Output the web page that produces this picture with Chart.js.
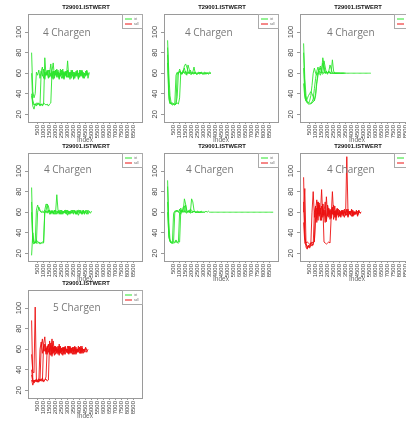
<!DOCTYPE html>
<html>
<head>
<meta charset="utf-8">
<script src="https://cdn.jsdelivr.net/npm/chart.js@4"></script>
<style>
  body { margin: 0; width: 406px; height: 423px; overflow: hidden; background: #fff; position: relative; }
  canvas { position: absolute; }
</style>
</head>
<body>
<script>
// index step between two values of a series
const STEP = 100;
const xTicks = [500, 1000, 1500, 2000, 2500, 3000, 3500, 4000, 4500, 5000, 5500, 6000, 6500, 7000, 7500, 8000, 8500];
const yTicks = [20, 40, 60, 80, 100];
const title = "T29001.ISTWERT";
const chargen = ["4 Chargen", "4 Chargen", "4 Chargen", "4 Chargen", "4 Chargen", "4 Chargen", "5 Chargen"];
const legendLabels = ["ist", "soll"];

// panel 1
const s1a = [80,42,36,40,61,58,63,55,62,57,64,54,61,58,63,56,60,55,62,57,63,58,61,54,62,59,64,55,60,57,63,56,61,58,62,54,60,57,63,55,61,59,62,56,60,58,63,55,60];
const s1b = [60,31,29,30,28,30,31,29,30,28,30,75,58,62,55,63,57,61,54,62,58,64,56,60,57,63,55,61,58,62,56,60,54,63,57,61,55,62,58,60,56,63,57,61,55,62,58,60];
const s1c = [40,28,25,30,29,31,30,28,30,29,31,30,29,30,28,30,31,62,70,57,63,56,61,55,64,58,60,54,62,57,72,56,61,58,63,55,60,57,62,54,61,58,63,56,60,57,62,58,61];
const s1d = [38,33,30,29,31,30,30,29,62,66,55,61,58,63,56,60,69,57,62,55,61,58,63,57,60,55,62,58,61,56,63,59,60,55,62,57,61,58,60,56,63,57,61,55,60,58,62];
// panel 2
const s2a = [92,60,38,31,30,30,31,58,61,60,62,59,60,61,60,59,61,60,60,59,60,61,60,60,59,60,60,61,60,60,59,60,60,60,59,60,60];
const s2b = [85,45,32,30,29,30,30,30,37,60,62,60,59,61,67,69,66,62,60,61,59,60,60,61,60,59,60,60,61,60,60,59,60,60,60,61,60];
const s2c = [78,40,31,30,31,30,29,30,31,30,36,61,59,63,60,62,58,68,64,60,59,61,66,60,59,60,61,60,60,59,60,61,60,60,60];
const s2d = [70,35,30,31,30,30,29,31,60,59,64,61,60,62,65,60,59,61,60,63,60,60,59,61,60,60,60,59,61,60,60,60,59,60,60,60,60];
// panel 3
const s3a = [89,55,38,32,31,31,30,31,32,34,
             40,52,60,63,65,60,59,61,60,62,
             60,61,60,60,60,60,60,60,60,60,
             60,60,60,60,60,60,60,60,60,60,
             60,60,60,60,60,60,60,60,60,60,
             60,60,60,60,60,60,60];
const s3b = [80,45,33,31,30,30,31,32,35,45,55,62,66,60,58,62,75,68,60,61,60,62,60,60,60,60,60,60,60,60,60];
const s3c = [65,40,34,32,31,33,38,48,60,65,60,58,61,64,67,62,60,72,66,60,59,62,60,61,73,62,60,60,60,60,60,60,60,60,60];
const s3d = [50,36,33,35,38,40,42,40,37,33,38,50,58,62,60,63,70,64,60,61,60,62,68,64,60,60,60,60,60,60,60,60,60,60,60,60];
// panel 4
const s4a = [84,35,31,30,33,31,30,29,30,30,31,62,60,61,60,62,58,61,59,62,58,60,61,59,62,58,61,60,59,62,57,61,60,59,62,58,61,59,62,57,60,61,58,62,59,61,58,62,60,59,61];
const s4b = [18,40,31,30,62,67,63,61,60,60,60,59,61,68,66,60,59,62,58,61,60,77,62,58,60,61,59,60,62,58,61,60,60,59,61,60,62,58,60,61,59,62,58,60,61,59,62,58,61,60];
const s4c = [60,32,30,31,30,60,65,62,60,61,60,62,68,67,60,62,59,61,60,58,62,60,59,61,58,62,60,61,59,60,62,58,61,60,59,62,60,58,61,60,62,59,60,61,58,62];
const s4d = [70,30,29,31,30,30,31,30,30,31,30,60,61,59,62,58,61,60,59,62,60,58,61,62,59,60,58,61,62,59,60,61,58,62,60,59,61,60,58,62,61,59,60,62,58];
// panel 5
const s5a = [91,50,33,31,30,32,60,62,61,60,
             63,60,61,60,61,60,60,61,60,60,
             60,60,61,60,60,60,60,60,60,60,
             60,60,61,60,61,60,60,60,60,60,
             60,60,60,60,60,60,60,60,60,60,
             60,60,60,60,60,60,60,60,60,60,
             60,60,60,60,60,60,60,60,60,60,
             60,60,60,60,60,60,60,60,60,60,
             60,60,60,60,60,60,60,60,60];
const s5b = [85,40,31,30,30,31,30,32,30,31,60,58,62,61,73,68,60,61,62,60,73,70,62,60,60,61,60,60,60,60];
const s5c = [70,35,32,31,30,30,31,33,31,30,31,62,60,65,66,60,59,61,60,63,62,60,61,60,60,60,60,60,61,60,60,60];
const s5d = [60,38,32,30,31,59,61,60,62,60,61,64,60,61,60,67,62,60,61,59,60,60,61,60,60,60,60];
// panel 6
const s6a = [94,40,26,24,27,25,28,60,80,55,66,50,70,56,64,52,68,57,62,51,67,55,63,58,65,53,61,57,64,55,62,58,61,56,63,57,62,55,61,58,63,56,60,58,62,57,61,59,60];
const s6b = [60,83,30,25,28,26,29,27,30,31,62,72,52,67,58,82,55,60,70,51,66,58,62,54,64,57,61,55,63,58,60,56,62,57,61,59,63,56,60,58,62,57,61,58,60,56,62];
const s6c = [50,30,28,27,26,28,30,29,28,60,66,54,70,58,63,55,68,31,30,29,30,31,30,56,80,58,66,52,63,57,61,55,62,58,60,57,114,59,61,57,62,56,60,58,61,57,62,59,60];
const s6d = [70,35,30,31,30,29,30,31,30,32,55,64,58,69,52,66,57,62,50,75,56,64,53,61,58,67,55,62,57,63,56,61,58,62,55,60,57,63,58,61,56,62,57,60,59,61,58];
// panel 7
const s7a = [88,30,28,29,30,28,29,30,62,70,58,65,55,63,57,61,54,64,58,62,55,60,57,63,56,61,58,62,55,60,57,63,56,61,58,60,55,62,57,61,59,63,56,60,58,61,57,60];
const s7b = [55,38,37,101,30,29,28,31,30,29,65,72,57,62,60,55,66,58,61,54,63,57,60,56,62,58,61,55,63,57,60,58,62,56,61,57,63,55,60,58,62,56,61,59,60,57];
const s7c = [40,30,27,29,30,28,31,30,29,30,28,30,31,29,30,68,60,70,56,63,58,62,55,65,57,61,54,62,58,60,56,63,57,61,55,62,58,60,57,63,56,61,58,60,57,62,59];
const s7d = [35,28,30,29,31,30,28,60,67,56,63,58,61,55,64,57,60,53,62,58,61,56,63,57,60,55,62,58,61,57,63,56,60,58,62,55,61,57,60,58,62,56,61,59];
const s7e = [30,25,29,30,28,30,31,29,30,32,29,30,33,61,65,59,63,55,68,57,62,58,60,54,63,57,61,56,62,58,60,55,63,57,61,58,62,56,60,57,61,58,63,56,60];

const panels = [
  [s1a, s1b, s1c, s1d], [s2a, s2b, s2c, s2d], [s3a, s3b, s3c, s3d],
  [s4a, s4b, s4c, s4d], [s5a, s5b, s5c, s5d], [s6a, s6b, s6c, s6d],
  [s7a, s7b, s7c, s7d, s7e]
];

const GREEN = "#2ae42a", RED = "#ec1010";
const panelColor = [GREEN, GREEN, GREEN, GREEN, GREEN, RED, RED];
const colLeft = [0, 136, 272], rowTop = [0, 139, 276];
const labelPos = [[43, 33], [49, 33], [55, 33], [44, 31], [50, 31], [55, 31], [53, 32]];

// draws what R adds around the plot: box, title, y labels, legend, note
const rLook = {
  id: "rLook",
  afterDraw(chart, args, o) {
    const { ctx, chartArea: a, scales: { y } } = chart;
    ctx.save();
    ctx.strokeStyle = "#9a9a9a";
    ctx.lineWidth = 1;
    ctx.strokeRect(Math.round(a.left) + .5, Math.round(a.top) + .5, Math.round(a.right - a.left), Math.round(a.bottom - a.top));

    ctx.fillStyle = "#111";
    ctx.font = "bold 5.8px 'Liberation Sans'";
    ctx.textAlign = "center";
    ctx.textBaseline = "middle";
    ctx.fillText(title, 86, 7);

    ctx.fillStyle = "#444";
    ctx.font = "7.5px 'Liberation Sans'";
    yTicks.forEach(v => {
      ctx.save();
      ctx.translate(a.left - 9, y.getPixelForValue(v));
      ctx.rotate(-Math.PI / 2);
      ctx.fillText(String(v), 0, 0);
      ctx.restore();
    });

    // legend, top right
    const lx = a.right - 20, ly = a.top;
    ctx.strokeStyle = "#aaa";
    ctx.strokeRect(lx + .5, ly + .5, 20, 14);
    [GREEN, RED].forEach((c, i) => {
      ctx.strokeStyle = c;
      ctx.beginPath();
      ctx.moveTo(lx + 3, ly + 5 + i * 5);
      ctx.lineTo(lx + 10, ly + 5 + i * 5);
      ctx.stroke();
      ctx.fillStyle = "#666";
      ctx.font = "3px 'Liberation Sans'";
      ctx.textAlign = "left";
      ctx.fillText(legendLabels[i], lx + 12, ly + 5 + i * 5);
    });

    ctx.fillStyle = "#777";
    ctx.font = "10px 'Open Sans'";
    ctx.textAlign = "left";
    ctx.fillText(o.note, o.nx, o.ny);
    ctx.restore();
  }
};

panels.forEach((series, p) => {
  const cv = document.createElement("canvas");
  cv.width = 146; cv.height = 146;
  cv.style.left = colLeft[p % 3] + "px";
  cv.style.top = rowTop[Math.floor(p / 3)] + "px";
  document.body.appendChild(cv);

  new Chart(cv, {
    type: "line",
    data: {
      datasets: series.map(ys => ({
        data: ys.map((v, i) => ({ x: i * STEP, y: v })),
        borderColor: panelColor[p],
        borderWidth: 0.9,
        pointRadius: 0,
        tension: 0
      }))
    },
    options: {
      responsive: false,
      animation: false,
      events: [],
      layout: { padding: { top: 14, right: 4, left: 0, bottom: 0 } },
      plugins: {
        legend: { display: false },
        tooltip: { enabled: false },
        rLook: { note: chargen[p], nx: labelPos[p][0], ny: labelPos[p][1] }
      },
      scales: {
        x: {
          type: "linear", min: -300, max: 9200,
          afterBuildTicks: s => { s.ticks = xTicks.map(v => ({ value: v })); },
          afterFit: s => { s.height = 24; },
          ticks: { minRotation: 90, maxRotation: 90, autoSkip: false, padding: 1, color: "#444",
                   font: { size: 6, family: "Liberation Sans" }, callback: v => String(v) },
          grid: { drawOnChartArea: false, tickLength: 2, color: "#999" },
          border: { color: "#9a9a9a" },
          title: { display: true, text: "Index", color: "#666", padding: { top: 0, bottom: 2 },
                   font: { size: 6.5, family: "Liberation Sans" } }
        },
        y: {
          min: 12.5, max: 117.6,
          afterBuildTicks: s => { s.ticks = yTicks.map(v => ({ value: v })); },
          afterFit: s => { s.width = 28; },
          ticks: { display: false },
          grid: { drawOnChartArea: false, tickLength: 3, color: "#999" },
          border: { color: "#9a9a9a" }
        }
      }
    },
    plugins: [rLook]
  });
});
</script>
</body>
</html>
